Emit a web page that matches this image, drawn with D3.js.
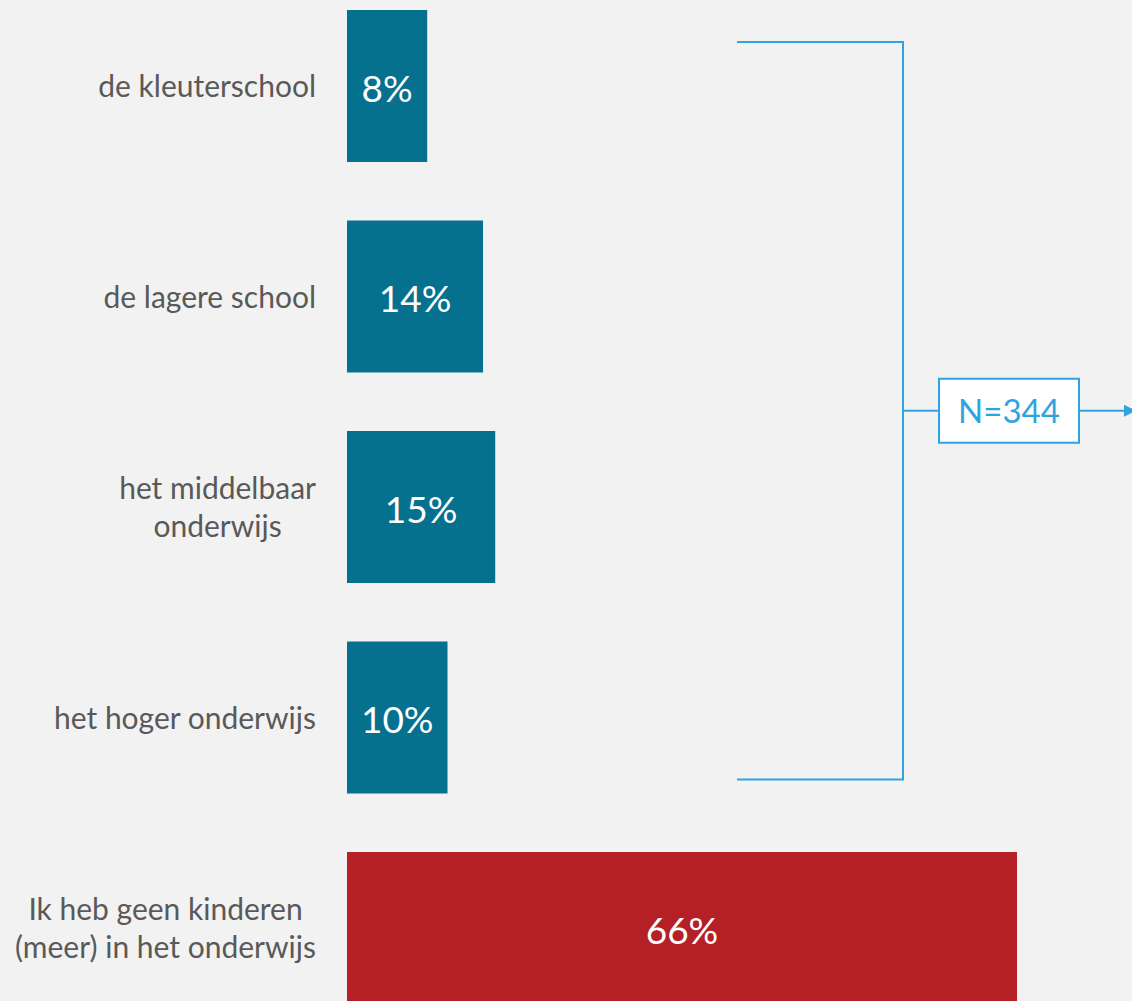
<!DOCTYPE html>
<html>
<head>
<meta charset="utf-8">
<script src="https://cdn.jsdelivr.net/npm/d3@7"></script>
<style>
  html, body { margin: 0; padding: 0; background: #f2f2f2; }
  svg { display: block; }
  .cat { font-family: Lato, "Open Sans", sans-serif; font-size: 30px; fill: #595959; }
  .value { font-family: Lato, "Open Sans", sans-serif; font-size: 37px; fill: #fff; }
  .ntext { font-family: Lato, "Open Sans", sans-serif; font-size: 33px; fill: #2ea3e0; }
</style>
</head>
<body>
<svg width="1132" height="1001"></svg>
<script>
  // categories (split on lines) and values
  const categories = [
    ["de kleuterschool"],
    ["de lagere school"],
    ["het middelbaar", "onderwijs"],
    ["het hoger onderwijs"],
    ["Ik heb geen kinderen", "(meer) in het onderwijs"]
  ];
  const values = [7.9, 13.4, 14.6, 9.9, 66];
  const valueLabels = ["8%", "14%", "15%", "10%", "66%"];
  const barColors = ["#05718f", "#05718f", "#05718f", "#05718f", "#b52026"];
  const sampleLabel = "N=344";

  const svg = d3.select('svg');
  const blue = '#2ea3e0';

  const keys = categories.map((c, i) => i);

  const xScale = d3.scaleLinear()
    .domain([0, 66])
    .range([347, 1017]);

  const yScale = d3.scaleBand()
    .domain(keys)
    .range([10, 1004])
    .paddingInner(0.278)
    .paddingOuter(0);

  const bars = svg.selectAll('.bar')
    .data(keys)
    .enter()
    .append('g');

  bars.append('rect')
    .attr('x', xScale(0))
    .attr('y', i => yScale(i))
    .attr('width', i => xScale(values[i]) - xScale(0))
    .attr('height', yScale.bandwidth())
    .attr('fill', i => barColors[i]);

  bars.append('text')
    .attr('class', 'value')
    .attr('x', i => (xScale(0) + xScale(values[i])) / 2)
    .attr('y', i => yScale(i) + yScale.bandwidth() / 2)
    .attr('dy', '0.42em')
    .attr('text-anchor', 'middle')
    .text(i => valueLabels[i]);

  // category labels: right aligned block, centred lines
  const lineH = 38;
  bars.each(function (i) {
    const lines = categories[i];
    const g = d3.select(this).append('text').attr('class', 'cat');
    const cy = yScale(i) + yScale.bandwidth() / 2;
    lines.forEach((l, k) => {
      g.append('tspan')
        .attr('y', cy + (k - (lines.length - 1) / 2) * lineH)
        .attr('dy', '0.38em')
        .text(l);
    });
    // measure then centre within block whose right edge is at 316
    const widths = [];
    g.selectAll('tspan').each(function () { widths.push(this.getComputedTextLength()); });
    const maxW = d3.max(widths);
    const cx = 316 - maxW / 2;
    g.selectAll('tspan').attr('x', cx).attr('text-anchor', 'middle');
  });

  // bracket around the first four bars
  const bTop = yScale(0) + 32;
  const bBottom = yScale(3) + yScale.bandwidth() - 14;
  const bx = 903;
  const bracket = svg.append('g')
    .attr('fill', 'none')
    .attr('stroke', blue)
    .attr('stroke-width', 2);

  bracket.append('path')
    .attr('d', `M737,${bTop}H${bx}V${bBottom}H737`);

  const midY = (bTop + bBottom) / 2;
  bracket.append('line')
    .attr('x1', bx).attr('x2', 939)
    .attr('y1', midY).attr('y2', midY);

  svg.append('rect')
    .attr('x', 939).attr('y', midY - 32)
    .attr('width', 140).attr('height', 64)
    .attr('fill', '#fff')
    .attr('stroke', blue)
    .attr('stroke-width', 2);

  svg.append('text')
    .attr('class', 'ntext')
    .attr('x', 1009)
    .attr('y', midY)
    .attr('dy', '0.37em')
    .attr('text-anchor', 'middle')
    .text(sampleLabel);

  svg.append('defs').append('marker')
    .attr('id', 'arrow')
    .attr('viewBox', '0 0 10 10')
    .attr('refX', 10).attr('refY', 5)
    .attr('markerWidth', 6).attr('markerHeight', 6)
    .attr('orient', 'auto')
    .append('path')
    .attr('d', 'M0,0L10,5L0,10Z')
    .attr('fill', blue);

  svg.append('line')
    .attr('x1', 1079).attr('x2', 1136)
    .attr('y1', midY).attr('y2', midY)
    .attr('stroke', blue)
    .attr('stroke-width', 2)
    .attr('marker-end', 'url(#arrow)');
</script>
</body>
</html>
